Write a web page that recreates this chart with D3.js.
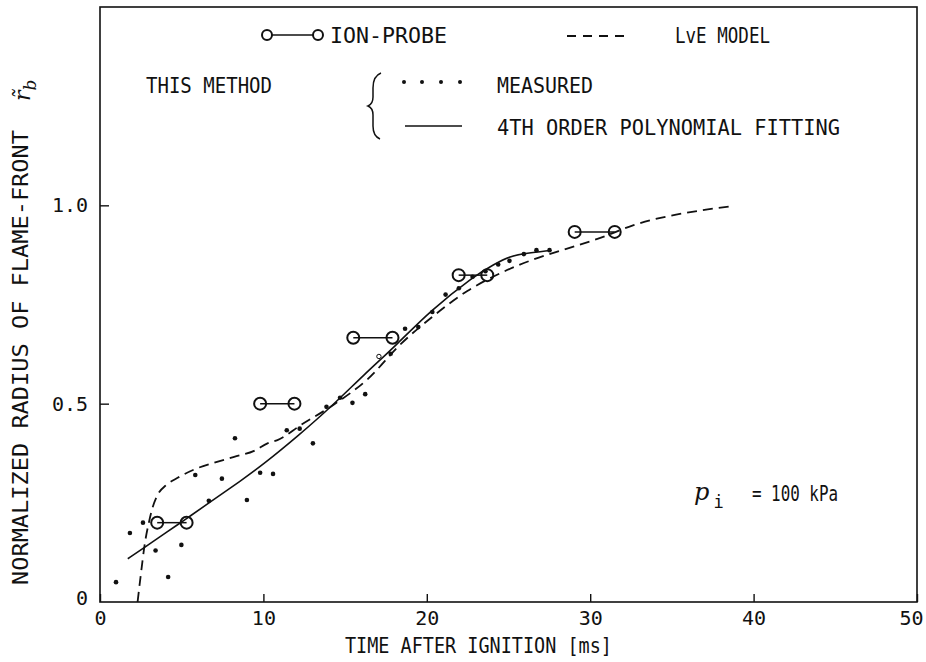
<!DOCTYPE html>
<html>
<head>
<meta charset="utf-8">
<script src="https://cdn.jsdelivr.net/npm/d3@7"></script>
<style>
  body { margin: 0; background: #fff; }
  text { font-family: "DejaVu Sans Mono", monospace; fill: #111; }
</style>
</head>
<body>
<svg id="chart" width="926" height="662"></svg>
<script>

// tick labels
const xTicks = [0, 10, 20, 30, 40, 50];
const yTicks = [0, 0.5, 1.0];

// ion-probe pairs (start time, end time, normalized radius)
const ionStart = [3.5, 9.8, 15.5, 21.95, 29.05];
const ionEnd = [5.3, 11.9, 17.9, 23.7, 31.5];
const ionRadius = [0.20, 0.50, 0.666, 0.824, 0.933];

// measured points, this method
const measuredTime = [0.98, 1.83, 2.63, 3.40, 4.17, 4.98, 5.83, 6.66, 7.46, 8.26, 8.99, 9.80,
  10.59, 11.43, 12.22, 13.03, 13.86, 14.69, 15.45, 16.23, 17.79, 18.67, 19.48, 20.34,
  21.15, 21.96, 22.80, 23.59, 24.37, 25.06, 25.94, 26.71, 27.51];
const measuredRadius = [0.050, 0.174, 0.200, 0.130, 0.063, 0.144, 0.320, 0.255, 0.311, 0.413, 0.257, 0.326,
  0.323, 0.433, 0.437, 0.400, 0.492, 0.515, 0.502, 0.524, 0.626, 0.689, 0.693, 0.731,
  0.775, 0.791, 0.820, 0.834, 0.851, 0.860, 0.877, 0.887, 0.887];
const openTime = [17.07];
const openRadius = [0.619];

// 4th order polynomial fitting
const fitTime = [1.7, 2.7, 4.0, 5.4, 6.7, 8.6, 10.0, 12.1, 14.1, 16.2, 18.2, 20.2, 22.9, 24.1, 25.1, 26.1, 27.5];
const fitRadius = [0.109, 0.137, 0.174, 0.213, 0.251, 0.305, 0.347, 0.418, 0.490, 0.575, 0.650, 0.734, 0.822, 0.851, 0.872, 0.879, 0.886];

// LvE model
const lveTime = [2.30, 2.51, 2.72, 3.01, 3.21, 3.55, 4.03, 4.75, 5.76, 6.99, 8.21, 9.43, 10.25, 10.86,
  12.29, 14.32, 16.36, 18.40, 20.43, 22.48, 24.51, 26.55, 28.59, 30.62, 32.66, 36.74, 38.77];
const lveRadius = [0.0, 0.073, 0.141, 0.204, 0.237, 0.272, 0.294, 0.313, 0.334, 0.351, 0.366, 0.381, 0.400, 0.408,
  0.446, 0.498, 0.561, 0.650, 0.722, 0.784, 0.829, 0.864, 0.891, 0.918, 0.950, 0.987, 0.998];

const svg = d3.select("#chart");

const x = d3.scaleLinear().domain([0, 50]).range([100, 917]),
      y = d3.scaleLinear().domain([0, 1.5]).range([602, 7]);

// frame
svg.append("rect")
  .attr("x", x(0)).attr("y", y(1.5))
  .attr("width", x(50) - x(0)).attr("height", y(0) - y(1.5))
  .attr("fill", "none").attr("stroke", "#111").attr("stroke-width", 1.6);

// axes with inward ticks
const xAxis = svg.append("g")
  .attr("transform", `translate(0,${y(0)})`)
  .call(d3.axisBottom(x).tickValues(xTicks).tickSizeInner(-8).tickSizeOuter(0).tickPadding(9).tickFormat(d3.format("d")));

const yAxis = svg.append("g")
  .attr("transform", `translate(${x(0)},0)`)
  .call(d3.axisLeft(y).tickValues(yTicks).tickSizeInner(-9).tickSizeOuter(0).tickPadding(12)
    .tickFormat((d) => d === 0 ? "0" : d3.format(".1f")(d)));

[xAxis, yAxis].forEach((g) => {
  g.select(".domain").remove();
  g.selectAll("line").attr("stroke", "#111").attr("stroke-width", 1.4);
  g.selectAll("text").attr("font-size", 20).style("font-family", "'DejaVu Sans Mono', monospace").attr("fill", "#111");
});
xAxis.selectAll(".tick").filter((d) => d === 50).select("text").attr("dx", -6);
yAxis.selectAll(".tick").filter((d) => d === 0).select("line").remove();
yAxis.selectAll(".tick").filter((d) => d === 0).select("text").attr("dy", "0.1em");

// axis titles
svg.append("text")
  .attr("x", 345).attr("y", 653)
  .attr("font-size", 21)
  .attr("textLength", 267).attr("lengthAdjust", "spacingAndGlyphs")
  .text("TIME AFTER IGNITION [ms]");

svg.append("text")
  .attr("transform", "translate(28,585) rotate(-90)")
  .attr("font-size", 21)
  .attr("textLength", 455).attr("lengthAdjust", "spacingAndGlyphs")
  .text("NORMALIZED RADIUS OF FLAME-FRONT");

const rb = svg.append("text")
  .attr("transform", "translate(30,101) rotate(-90)")
  .style("font-family", "'DejaVu Serif', serif")
  .style("font-style", "italic")
  .attr("font-size", 22);
rb.append("tspan").text("r\u0303");
rb.append("tspan").attr("dy", 6).attr("font-size", 17).text("b");

// LvE model
const line = d3.line().x((d) => x(d[0])).y((d) => y(d[1]));

svg.append("path")
  .datum(d3.zip(lveTime, lveRadius))
  .attr("d", line.curve(d3.curveMonotoneX))
  .attr("fill", "none").attr("stroke", "#111").attr("stroke-width", 1.8)
  .attr("stroke-dasharray", "10,6");

// polynomial fit
svg.append("path")
  .datum(d3.zip(fitTime, fitRadius))
  .attr("d", line.curve(d3.curveBasis))
  .attr("fill", "none").attr("stroke", "#111").attr("stroke-width", 1.6);

// measured
svg.append("g").selectAll("circle")
  .data(d3.zip(measuredTime, measuredRadius))
  .join("circle")
  .attr("cx", (d) => x(d[0])).attr("cy", (d) => y(d[1]))
  .attr("r", 2.3).attr("fill", "#111");

svg.append("g").selectAll("circle")
  .data(d3.zip(openTime, openRadius))
  .join("circle")
  .attr("cx", (d) => x(d[0])).attr("cy", (d) => y(d[1]))
  .attr("r", 2.2).attr("fill", "#fff").attr("stroke", "#111").attr("stroke-width", 1);

// ion-probe
const ion = svg.append("g").selectAll("g")
  .data(d3.zip(ionStart, ionEnd, ionRadius))
  .join("g");

ion.append("line")
  .attr("x1", (d) => x(d[0])).attr("x2", (d) => x(d[1]))
  .attr("y1", (d) => y(d[2])).attr("y2", (d) => y(d[2]))
  .attr("stroke", "#111").attr("stroke-width", 1.5);

ion.selectAll("circle")
  .data((d) => [[d[0], d[2]], [d[1], d[2]]])
  .join("circle")
  .attr("cx", (d) => x(d[0])).attr("cy", (d) => y(d[1]))
  .attr("r", 6).attr("fill", "none").attr("stroke", "#111").attr("stroke-width", 2);

// legend
const legend = svg.append("g");

legend.append("line")
  .attr("x1", 267).attr("x2", 318).attr("y1", 35).attr("y2", 35)
  .attr("stroke", "#111").attr("stroke-width", 1.6);
legend.selectAll("circle.ion")
  .data([267, 318])
  .join("circle")
  .attr("class", "ion")
  .attr("cx", (d) => d).attr("cy", 35).attr("r", 5)
  .attr("fill", "#fff").attr("stroke", "#111").attr("stroke-width", 2);

legend.append("line")
  .attr("x1", 567).attr("x2", 627).attr("y1", 36).attr("y2", 36)
  .attr("stroke", "#111").attr("stroke-width", 1.8).attr("stroke-dasharray", "9,7");

legend.selectAll("circle.dot")
  .data([404, 422, 441, 460])
  .join("circle")
  .attr("class", "dot")
  .attr("cx", (d) => d).attr("cy", 82).attr("r", 2)
  .attr("fill", "#111");

legend.append("line")
  .attr("x1", 405).attr("x2", 462).attr("y1", 126).attr("y2", 126)
  .attr("stroke", "#111").attr("stroke-width", 1.6);

// brace
const brace = d3.path();
brace.moveTo(381, 73);
brace.quadraticCurveTo(373, 76, 373, 88);
brace.lineTo(373, 97);
brace.quadraticCurveTo(373, 104, 368, 106);
brace.quadraticCurveTo(373, 108, 373, 115);
brace.lineTo(373, 126);
brace.quadraticCurveTo(373, 136, 380, 139);
legend.append("path")
  .attr("d", brace.toString())
  .attr("fill", "none").attr("stroke", "#111").attr("stroke-width", 1.5);

const labels = [
  {t: "ION-PROBE", x: 330, y: 43, w: 117},
  {t: "LvE MODEL", x: 675, y: 43, w: 95},
  {t: "THIS METHOD", x: 146, y: 93, w: 126},
  {t: "MEASURED", x: 497, y: 93, w: 96},
  {t: "4TH ORDER POLYNOMIAL FITTING", x: 497, y: 135, w: 343},
  {t: "= 100 kPa", x: 752, y: 501, w: 86}
];

legend.selectAll("text.lab")
  .data(labels)
  .join("text")
  .attr("class", "lab")
  .attr("x", (d) => d.x).attr("y", (d) => d.y)
  .attr("font-size", 21)
  .attr("textLength", (d) => d.w).attr("lengthAdjust", "spacingAndGlyphs")
  .text((d) => d.t);

const pi = legend.append("text")
  .attr("x", 694).attr("y", 500)
  .style("font-family", "'DejaVu Serif', serif")
  .attr("font-size", 24);
pi.append("tspan").style("font-style", "italic").text("p");
pi.append("tspan").attr("dx", 4).attr("dy", 8).attr("font-size", 17).style("font-family", "'DejaVu Sans Mono', monospace").text("i");

</script>
</body>
</html>
